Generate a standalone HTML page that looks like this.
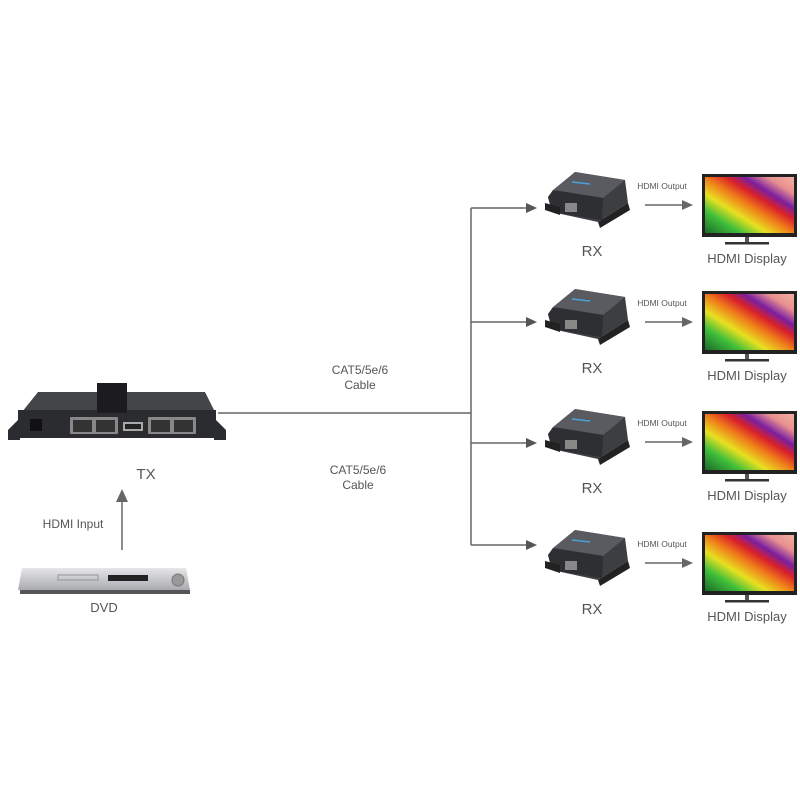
<!DOCTYPE html>
<html><head><meta charset="utf-8"><style>
html,body{margin:0;padding:0;background:#fff}
svg{display:block}
text{font-family:"Liberation Sans",sans-serif;fill:#555}
</style></head><body>
<svg width="800" height="800" viewBox="0 0 800 800" xmlns="http://www.w3.org/2000/svg">
<defs>
<linearGradient id="scr" x1="0" y1="1" x2="1" y2="0">
<stop offset="0" stop-color="#1a6b2a"/><stop offset="0.2" stop-color="#3fbf3a"/><stop offset="0.35" stop-color="#e8e020"/><stop offset="0.5" stop-color="#f07a1a"/><stop offset="0.62" stop-color="#d8202a"/><stop offset="0.72" stop-color="#7a1fa0"/><stop offset="0.85" stop-color="#e89090"/><stop offset="1" stop-color="#f2b0a0"/>
</linearGradient>
<linearGradient id="dvd" x1="0" y1="0" x2="0" y2="1"><stop offset="0" stop-color="#e6e6e8"/><stop offset="1" stop-color="#a9abb0"/></linearGradient>
<g id="row">
  <!-- RX device -->
  <polygon points="548,197 575,172 625,180 628,203 598,222 552,212" fill="#3d3e42"/>
  <polygon points="575,172 625,180 603,198 553,190" fill="#5a5b60"/>
  <polygon points="548,197 553,190 603,198 602,220 552,212" fill="#2e2f33"/>
  <rect x="565" y="203" width="12" height="9" fill="#888"/>
  <polygon points="598,222 628,203 630,210 600,228" fill="#222"/>
  <polygon points="545,203 560,207 560,215 545,210" fill="#222"/>
  <line x1="572" y1="182" x2="590" y2="184" stroke="#4aa0d8" stroke-width="1.5"/>
  <text x="592" y="256" font-size="15" text-anchor="middle">RX</text>
  <!-- HDMI output arrow -->
  <text x="662" y="189" font-size="8.5" text-anchor="middle">HDMI Output</text>
  <line x1="645" y1="205" x2="684" y2="205" stroke="#666" stroke-width="1.5"/>
  <polygon points="682,200 693,205 682,210" fill="#666"/>
  <!-- Display -->
  <rect x="702" y="174" width="95" height="63" fill="#222"/>
  <rect x="705" y="177" width="89" height="56" fill="url(#scr)"/>
  <rect x="745" y="237" width="4" height="5" fill="#555"/>
  <rect x="725" y="242" width="44" height="2.5" fill="#333"/>
  <text x="747" y="263" font-size="13" text-anchor="middle">HDMI Display</text>
</g>
</defs>

<!-- connector lines -->
<line x1="218" y1="413" x2="471" y2="413" stroke="#666" stroke-width="1.5"/>
<line x1="471" y1="208" x2="471" y2="545" stroke="#666" stroke-width="1.5"/>
<g stroke="#666" stroke-width="1.5">
<line x1="471" y1="208" x2="528" y2="208"/>
<line x1="471" y1="322" x2="528" y2="322"/>
<line x1="471" y1="443" x2="528" y2="443"/>
<line x1="471" y1="545" x2="528" y2="545"/>
</g>
<g fill="#555">
<polygon points="526,203 537,208 526,213"/>
<polygon points="526,317 537,322 526,327"/>
<polygon points="526,438 537,443 526,448"/>
<polygon points="526,540 537,545 526,550"/>
</g>

<use href="#row"/>
<use href="#row" transform="translate(0,117)"/>
<use href="#row" transform="translate(0,237)"/>
<use href="#row" transform="translate(0,358)"/>

<text x="360" y="374" font-size="12" text-anchor="middle">CAT5/5e/6</text>
<text x="360" y="389" font-size="12" text-anchor="middle">Cable</text>
<text x="358" y="474" font-size="12" text-anchor="middle">CAT5/5e/6</text>
<text x="358" y="489" font-size="12" text-anchor="middle">Cable</text>

<!-- TX device -->
<polygon points="22,412 38,392 205,392 215,412" fill="#444549"/>
<rect x="18" y="410" width="198" height="28" fill="#2b2c30"/>
<polygon points="8,430 20,418 20,440 8,440" fill="#2b2c30"/>
<polygon points="226,430 214,418 214,440 226,440" fill="#2b2c30"/>
<rect x="97" y="383" width="30" height="30" fill="#1c1c1f"/>
<rect x="30" y="419" width="12" height="12" fill="#111"/>
<rect x="70" y="417" width="48" height="17" fill="#888" rx="1"/>
<rect x="73" y="420" width="19" height="12" fill="#333"/>
<rect x="96" y="420" width="19" height="12" fill="#333"/>
<rect x="123" y="422" width="20" height="9" fill="#aaa"/>
<rect x="125" y="424" width="16" height="5" fill="#222"/>
<rect x="148" y="417" width="48" height="17" fill="#888" rx="1"/>
<rect x="151" y="420" width="19" height="12" fill="#333"/>
<rect x="174" y="420" width="19" height="12" fill="#333"/>
<text x="146" y="479" font-size="15" text-anchor="middle">TX</text>

<!-- HDMI input arrow -->
<line x1="122" y1="550" x2="122" y2="500" stroke="#666" stroke-width="1.5"/>
<polygon points="116,502 122,489 128,502" fill="#666"/>
<text x="73" y="528" font-size="12" text-anchor="middle">HDMI Input</text>

<!-- DVD -->
<polygon points="22,568 186,568 190,590 18,590" fill="url(#dvd)"/>
<rect x="20" y="590" width="170" height="4" fill="#555"/>
<rect x="58" y="575" width="40" height="5" fill="none" stroke="#888" stroke-width="0.8"/>
<rect x="108" y="575" width="40" height="6" fill="#222"/>
<circle cx="178" cy="580" r="6" fill="#999" stroke="#777"/>
<text x="104" y="612" font-size="13" text-anchor="middle">DVD</text>
</svg>
</body></html>
